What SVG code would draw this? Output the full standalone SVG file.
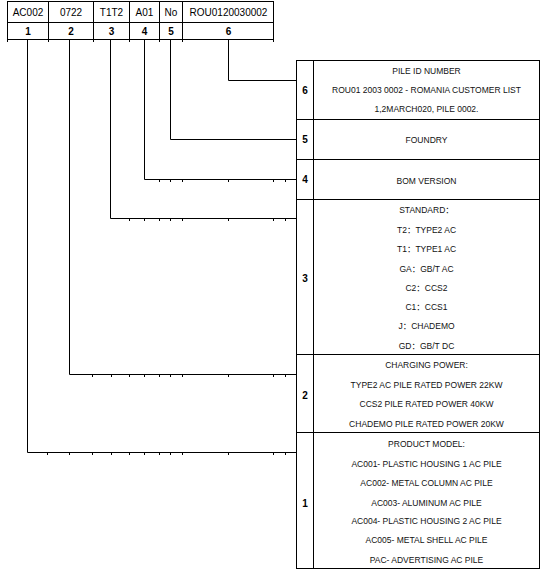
<svg xmlns="http://www.w3.org/2000/svg" width="548" height="573" viewBox="0 0 548 573">
<style>
.b{fill:none;stroke:#000;stroke-width:1}
.h{font-family:"Liberation Sans",Arial,sans-serif;font-size:10px;fill:#000;text-anchor:middle}
.hb{font-family:"Liberation Sans",Arial,sans-serif;font-size:10px;font-weight:bold;fill:#000;text-anchor:middle}
.t{font-family:"Liberation Sans",Arial,"Noto Sans CJK SC",sans-serif;font-size:8.5px;fill:#111;text-anchor:middle}
.tk{stroke:#000;stroke-width:1}
</style>
<rect width="548" height="573" fill="#fff"/>
<g id="code-table">
<rect class="b" x="7.5" y="1.5" width="266" height="38"/>
<line class="b" x1="7.5" y1="22.5" x2="273.5" y2="22.5"/>
<line class="b" x1="48.5" y1="1.5" x2="48.5" y2="39.5"/>
<line class="b" x1="93.5" y1="1.5" x2="93.5" y2="39.5"/>
<line class="b" x1="129.5" y1="1.5" x2="129.5" y2="39.5"/>
<line class="b" x1="159.5" y1="1.5" x2="159.5" y2="39.5"/>
<line class="b" x1="182.5" y1="1.5" x2="182.5" y2="39.5"/>
<text class="h" x="28" y="15.5">AC002</text>
<text class="h" x="71" y="15.5">0722</text>
<text class="h" x="111.5" y="15.5">T1T2</text>
<text class="h" x="144.5" y="15.5">A01</text>
<text class="h" x="171" y="15.5">No</text>
<text class="h" x="228.5" y="15.5">ROU0120030002</text>
<text class="hb" x="28" y="34.5">1</text>
<text class="hb" x="71" y="34.5">2</text>
<text class="hb" x="111.5" y="34.5">3</text>
<text class="hb" x="144.5" y="34.5">4</text>
<text class="hb" x="171" y="34.5">5</text>
<text class="hb" x="228.5" y="34.5">6</text>
</g>
<g id="connectors">
<polyline class="b" points="228.5,40 228.5,80.5 296.5,80.5"/>
<polyline class="b" points="170.5,40 170.5,139.5 296.5,139.5"/>
<polyline class="b" points="144.5,40 144.5,179.5 296.5,179.5"/>
<polyline class="b" points="110.5,40 110.5,218.5 296.5,218.5"/>
<polyline class="b" points="69.5,40 69.5,374.5 296.5,374.5"/>
<polyline class="b" points="27.5,40 27.5,452.5 296.5,452.5"/>
<g class="tk">
<line x1="7.5" y1="40" x2="7.5" y2="42"/><line x1="48.5" y1="40" x2="48.5" y2="42"/><line x1="93.5" y1="40" x2="93.5" y2="42"/><line x1="129.5" y1="40" x2="129.5" y2="42"/><line x1="159.5" y1="40" x2="159.5" y2="42"/><line x1="182.5" y1="40" x2="182.5" y2="42"/><line x1="273.5" y1="40" x2="273.5" y2="42"/>
<line x1="159.5" y1="180" x2="159.5" y2="182"/><line x1="170.5" y1="180" x2="170.5" y2="182"/><line x1="182.5" y1="180" x2="182.5" y2="182"/><line x1="228.5" y1="180" x2="228.5" y2="182"/><line x1="273.5" y1="180" x2="273.5" y2="182"/><line x1="285.5" y1="180" x2="285.5" y2="182"/>
<line x1="129.5" y1="219" x2="129.5" y2="221"/><line x1="144.5" y1="219" x2="144.5" y2="221"/><line x1="159.5" y1="219" x2="159.5" y2="221"/><line x1="170.5" y1="219" x2="170.5" y2="221"/><line x1="182.5" y1="219" x2="182.5" y2="221"/><line x1="228.5" y1="219" x2="228.5" y2="221"/><line x1="273.5" y1="219" x2="273.5" y2="221"/><line x1="285.5" y1="219" x2="285.5" y2="221"/>
<line x1="92.5" y1="375" x2="92.5" y2="377"/><line x1="111.5" y1="375" x2="111.5" y2="377"/><line x1="129.5" y1="375" x2="129.5" y2="377"/><line x1="144.5" y1="375" x2="144.5" y2="377"/><line x1="159.5" y1="375" x2="159.5" y2="377"/><line x1="170.5" y1="375" x2="170.5" y2="377"/><line x1="182.5" y1="375" x2="182.5" y2="377"/><line x1="228.5" y1="375" x2="228.5" y2="377"/><line x1="273.5" y1="375" x2="273.5" y2="377"/><line x1="285.5" y1="375" x2="285.5" y2="377"/>
<line x1="47.5" y1="453" x2="47.5" y2="455"/><line x1="69.5" y1="453" x2="69.5" y2="455"/><line x1="92.5" y1="453" x2="92.5" y2="455"/><line x1="111.5" y1="453" x2="111.5" y2="455"/><line x1="129.5" y1="453" x2="129.5" y2="455"/><line x1="144.5" y1="453" x2="144.5" y2="455"/><line x1="159.5" y1="453" x2="159.5" y2="455"/><line x1="170.5" y1="453" x2="170.5" y2="455"/><line x1="182.5" y1="453" x2="182.5" y2="455"/><line x1="228.5" y1="453" x2="228.5" y2="455"/><line x1="273.5" y1="453" x2="273.5" y2="455"/><line x1="285.5" y1="453" x2="285.5" y2="455"/>
</g>
</g>
<g id="row6">
<rect class="b" x="296.5" y="60.5" width="243" height="59"/>
<line class="b" x1="313.5" y1="60.5" x2="313.5" y2="119.5"/>
<text class="hb" x="305" y="93.5">6</text>
<text class="t" x="426.5" y="74">PILE ID NUMBER</text>
<text class="t" x="426.5" y="93">ROU01 2003 0002 - ROMANIA CUSTOMER LIST</text>
<text class="t" x="426.5" y="112">1,2MARCH020, PILE 0002.</text>
</g>
<g id="row5">
<rect class="b" x="296.5" y="119.5" width="243" height="40"/>
<line class="b" x1="313.5" y1="119.5" x2="313.5" y2="159.5"/>
<text class="hb" x="305" y="143">5</text>
<text class="t" x="426.5" y="142.5">FOUNDRY</text>
</g>
<g id="row4">
<rect class="b" x="296.5" y="159.5" width="243" height="40"/>
<line class="b" x1="313.5" y1="159.5" x2="313.5" y2="199.5"/>
<text class="hb" x="305" y="183">4</text>
<text class="t" x="426.5" y="183.5">BOM VERSION</text>
</g>
<g id="row3">
<rect class="b" x="296.5" y="199.5" width="243" height="155"/>
<line class="b" x1="313.5" y1="199.5" x2="313.5" y2="354.5"/>
<text class="hb" x="305" y="281.5">3</text>
<text class="t" x="426.5" y="213">STANDARD：</text>
<text class="t" x="426.5" y="232.5">T2：TYPE2 AC</text>
<text class="t" x="426.5" y="252">T1：TYPE1 AC</text>
<text class="t" x="426.5" y="271.5">GA：GB/T AC</text>
<text class="t" x="426.5" y="291">C2：CCS2</text>
<text class="t" x="426.5" y="310">C1：CCS1</text>
<text class="t" x="426.5" y="329">J：CHADEMO</text>
<text class="t" x="426.5" y="349">GD：GB/T DC</text>
</g>
<g id="row2">
<rect class="b" x="296.5" y="354.5" width="243" height="78"/>
<line class="b" x1="313.5" y1="354.5" x2="313.5" y2="432.5"/>
<text class="hb" x="305" y="398.5">2</text>
<text class="t" x="426.5" y="368">CHARGING POWER:</text>
<text class="t" x="426.5" y="388">TYPE2 AC PILE RATED POWER 22KW</text>
<text class="t" x="426.5" y="407">CCS2 PILE RATED POWER 40KW</text>
<text class="t" x="426.5" y="426.5">CHADEMO PILE RATED POWER 20KW</text>
</g>
<g id="row1">
<rect class="b" x="296.5" y="432.5" width="243" height="136"/>
<line class="b" x1="313.5" y1="432.5" x2="313.5" y2="568.5"/>
<text class="hb" x="305" y="506.5">1</text>
<text class="t" x="426.5" y="446.5">PRODUCT MODEL:</text>
<text class="t" x="426.5" y="466.5">AC001- PLASTIC HOUSING 1 AC PILE</text>
<text class="t" x="426.5" y="486">AC002- METAL COLUMN AC PILE</text>
<text class="t" x="426.5" y="505.5">AC003- ALUMINUM AC PILE</text>
<text class="t" x="426.5" y="524">AC004- PLASTIC HOUSING 2 AC PILE</text>
<text class="t" x="426.5" y="543">AC005- METAL SHELL AC PILE</text>
<text class="t" x="426.5" y="563">PAC- ADVERTISING AC PILE</text>
</g>
</svg>
